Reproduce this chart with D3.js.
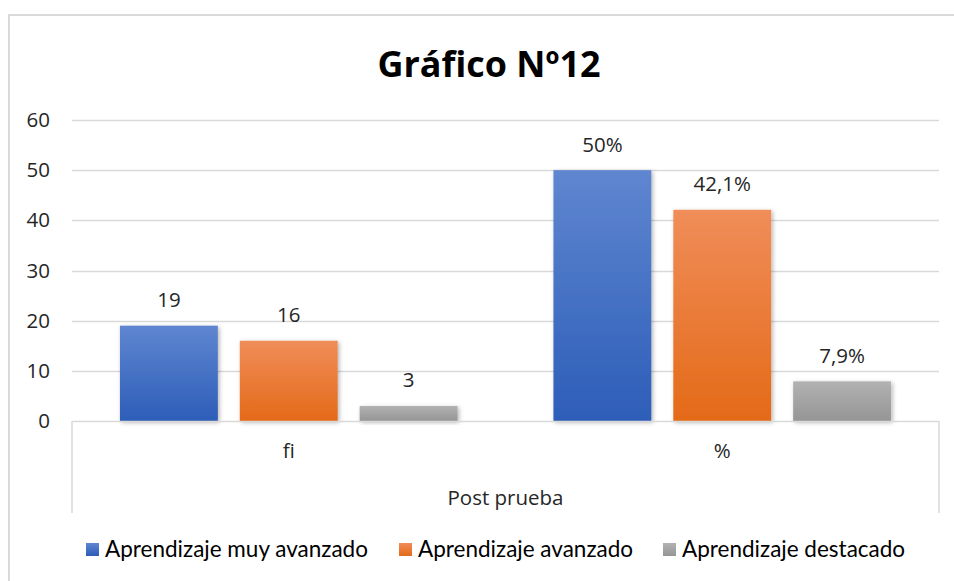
<!DOCTYPE html>
<html>
<head>
<meta charset="utf-8">
<script src="https://cdn.jsdelivr.net/npm/d3@7"></script>
<style>
  body { margin: 0; background: #fff; }
  svg { display: block; }
</style>
</head>
<body>
<svg id="chart" width="954" height="581"></svg>
<script>
var categories = ["fi", "%"];
var seriesNames = ["Aprendizaje muy avanzado", "Aprendizaje avanzado", "Aprendizaje destacado"];
var muyAvanzado = [19, 50];
var avanzado = [16, 42.1];
var destacado = [3, 7.9];
var valueLabels = [["19", "50%"], ["16", "42,1%"], ["3", "7,9%"]];
var yTicks = [0, 10, 20, 30, 40, 50, 60];
var groupLabel = "Post prueba";
var title = "Gráfico Nº12";

var seriesValues = [muyAvanzado, avanzado, destacado];
var gradients = [
    ["#5f86d0", "#2d5db8"],
    ["#f08d59", "#e46a18"],
    ["#b2b2b2", "#959595"]
];

var svg = d3.select("svg#chart");

var plotLeft = 72, plotRight = 939, plotTop = 120, plotBottom = 421;
var labelFont = "'Open Sans', sans-serif", labelSize = "20.5px";

var defs = svg.append("defs");
gradients.forEach(function(g, i) {
    var lg = defs.append("linearGradient")
        .attr("id", "grad" + i)
        .attr("x1", 0).attr("y1", 0)
        .attr("x2", 0).attr("y2", 1);
    lg.append("stop").attr("offset", "0%").attr("stop-color", g[0]);
    lg.append("stop").attr("offset", "100%").attr("stop-color", g[1]);
});
defs.append("filter")
    .attr("id", "shadow")
    .attr("x", "-20%").attr("y", "-20%")
    .attr("width", "140%").attr("height", "140%")
    .append("feDropShadow")
    .attr("dx", 1.5).attr("dy", 1.5)
    .attr("stdDeviation", 2)
    .attr("flood-color", "#000")
    .attr("flood-opacity", 0.3);

// chart border
svg.append("path")
    .attr("d", "M9,600 V15 H954")
    .attr("fill", "none")
    .attr("stroke", "#d9d9d9")
    .attr("stroke-width", 2);

var y = d3.scaleLinear().domain([0, 60]).range([plotBottom, plotTop]);

var x0 = d3.scaleBand().domain(categories).range([plotLeft, plotRight]);

var x1 = d3.scaleBand()
    .domain(d3.range(seriesNames.length))
    .range([0, x0.bandwidth()])
    .paddingInner(0.1833)
    .paddingOuter(0.4);

// gridlines
svg.append("g")
    .selectAll("line")
    .data(yTicks.filter(d => d > 0))
    .enter()
    .append("line")
    .attr("x1", plotLeft)
    .attr("x2", plotRight)
    .attr("y1", d => Math.round(y(d)) + 0.5)
    .attr("y2", d => Math.round(y(d)) + 0.5)
    .attr("stroke", "#d9d9d9")
    .attr("stroke-width", 1.3);

// y axis labels
var yAxis = d3.axisLeft(y).tickValues(yTicks).tickSize(0).tickPadding(0);
var yg = svg.append("g")
    .attr("transform", "translate(50,0)")
    .call(yAxis);
yg.select(".domain").remove();
yg.selectAll("text")
    .attr("font-family", labelFont)
    .attr("font-size", labelSize)
    .attr("fill", "#262626");

// bars
var groups = svg.append("g")
    .selectAll("g.series")
    .data(seriesValues)
    .enter()
    .append("g")
    .attr("class", "series");

groups.selectAll("rect")
    .data((vals, si) => vals.map((v, ci) => ({ v: v, si: si, ci: ci })))
    .enter()
    .append("rect")
    .attr("x", d => x0(categories[d.ci]) + x1(d.si))
    .attr("y", d => y(d.v))
    .attr("width", x1.bandwidth())
    .attr("height", d => y(0) - y(d.v))
    .attr("fill", d => "url(#grad" + d.si + ")")
    .attr("filter", "url(#shadow)");

groups.selectAll("text")
    .data((vals, si) => vals.map((v, ci) => ({ v: v, si: si, ci: ci })))
    .enter()
    .append("text")
    .attr("x", d => x0(categories[d.ci]) + x1(d.si) + x1.bandwidth() / 2)
    .attr("y", d => y(d.v) - 18.5)
    .attr("text-anchor", "middle")
    .attr("font-family", labelFont)
    .attr("font-size", labelSize)
    .attr("fill", "#262626")
    .text(d => valueLabels[d.si][d.ci]);

// category axis
var axisG = svg.append("g").attr("fill", "none").attr("stroke", "#d9d9d9").attr("stroke-width", 1.5);
axisG.append("line").attr("x1", plotLeft).attr("x2", plotRight).attr("y1", plotBottom + 0.5).attr("y2", plotBottom + 0.5);
axisG.append("line").attr("x1", plotLeft).attr("x2", plotLeft).attr("y1", plotBottom).attr("y2", 513);
axisG.append("line").attr("x1", plotRight).attr("x2", plotRight).attr("y1", plotBottom).attr("y2", 513);

svg.append("g")
    .selectAll("text")
    .data(categories)
    .enter()
    .append("text")
    .attr("x", d => x0(d) + x0.bandwidth() / 2)
    .attr("y", 458)
    .attr("text-anchor", "middle")
    .attr("font-family", labelFont)
    .attr("font-size", labelSize)
    .attr("fill", "#262626")
    .text(d => d);

svg.append("text")
    .attr("x", (plotLeft + plotRight) / 2)
    .attr("y", 505)
    .attr("text-anchor", "middle")
    .attr("font-family", labelFont)
    .attr("font-size", labelSize)
    .attr("fill", "#262626")
    .text(groupLabel);

// title
svg.append("text")
    .attr("x", 489)
    .attr("y", 77)
    .attr("text-anchor", "middle")
    .attr("font-family", "'Open Sans', sans-serif")
    .attr("font-weight", "bold")
    .attr("font-size", "36px")
    .attr("textLength", 223)
    .attr("lengthAdjust", "spacingAndGlyphs")
    .attr("fill", "#000")
    .text(title);

// legend
var legendX = [86, 399, 663];
var legend = svg.append("g")
    .selectAll("g.legend")
    .data(seriesNames)
    .enter()
    .append("g")
    .attr("class", "legend")
    .attr("transform", (d, i) => "translate(" + legendX[i] + ",550)");

legend.append("rect")
    .attr("x", 0)
    .attr("y", -7)
    .attr("width", 13)
    .attr("height", 13)
    .attr("fill", (d, i) => "url(#grad" + i + ")");

legend.append("text")
    .attr("x", 19)
    .attr("y", 7)
    .attr("font-family", "Lato, sans-serif")
    .attr("font-size", "22.5px")
    .attr("fill", "#000")
    .text(d => d);
</script>
</body>
</html>
